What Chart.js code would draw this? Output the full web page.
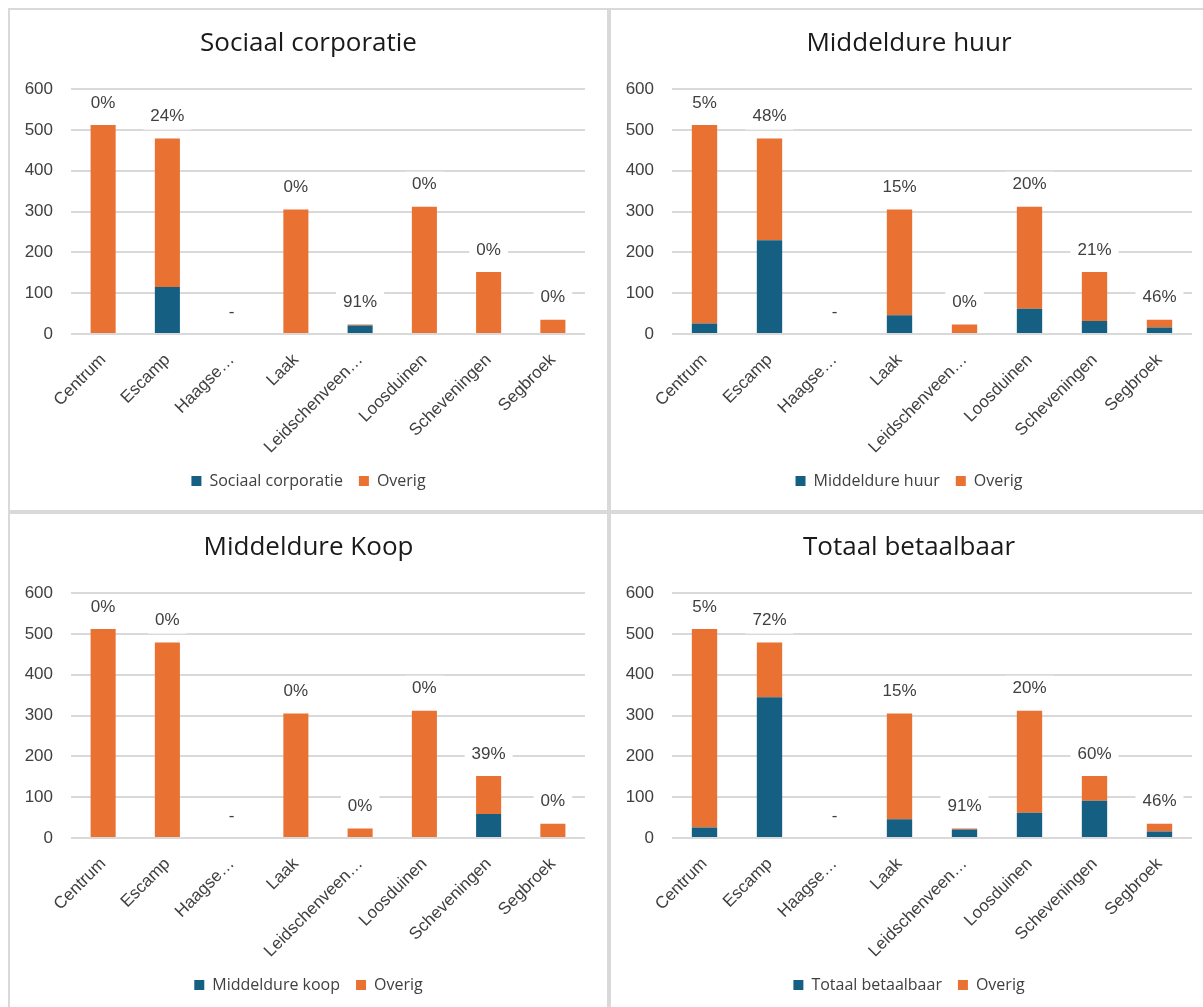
<!DOCTYPE html>
<html>
<head>
<meta charset="utf-8">
<script src="https://cdn.jsdelivr.net/npm/chart.js@4.4.1/dist/chart.umd.min.js"></script>
<style>
  body { margin: 0; background: #fff; width: 1203px; height: 1007px; overflow: hidden; position: relative; }
  .panel { position: absolute; box-sizing: border-box; border: 2px solid #d9d9d9; background: #fff; }
  .panel canvas { display: block; }
</style>
</head>
<body>
<div class="panel" style="left:8px; top:8px; width:601px; height:504px;"><canvas id="sociaalChart" width="597" height="500"></canvas></div>
<div class="panel" style="left:609px; top:8px; width:600px; height:504px;"><canvas id="huurChart" width="596" height="500"></canvas></div>
<div class="panel" style="left:8px; top:512px; width:601px; height:504px;"><canvas id="koopChart" width="597" height="500"></canvas></div>
<div class="panel" style="left:609px; top:512px; width:600px; height:504px;"><canvas id="totaalChart" width="596" height="500"></canvas></div>
<script>
// districts (as shown on the axis) and homes per district
const districts = ["Centrum", "Escamp", "Haagse…", "Laak", "Leidschenveen…", "Loosduinen", "Scheveningen", "Segbroek"];
const totalHomes = [512, 479, 0, 305, 23, 312, 152, 35];

// affordable part per district, one array per chart
const sociaalCorporatie = [0, 115, 0, 0, 21, 0, 0, 0];
const middeldureHuur = [26, 230, 0, 46, 0, 62, 32, 16];
const middeldureKoop = [0, 0, 0, 0, 0, 0, 59, 0];
const totaalBetaalbaar = [26, 345, 0, 46, 21, 62, 91, 16];

const yMin = 0;
const yMax = 600;
const yStep = 100;

const blue = "#156082";
const orange = "#E97132";
const textColor = "#404040";
const axisFont = "'Liberation Sans', Arial, sans-serif";
const titleFont = "'Open Sans', Lato, sans-serif";

// percentage label above each stacked bar, on a white patch
const shareLabels = {
  id: "shareLabels",
  afterDatasetsDraw(chart) {
    const ctx = chart.ctx;
    const part = chart.data.datasets[0].data;
    const rest = chart.data.datasets[1].data;
    const xs = chart.scales.x;
    const ys = chart.scales.y;
    ctx.save();
    ctx.font = "17px " + axisFont;
    ctx.textAlign = "center";
    ctx.textBaseline = "middle";
    part.forEach(function(v, i) {
      const total = v + rest[i];
      const text = total ? Math.round(v / total * 100) + "%" : "-";
      const px = xs.getPixelForValue(i);
      const py = ys.getPixelForValue(total) - 22;
      const w = ctx.measureText(text).width + 14;
      ctx.fillStyle = "#fff";
      ctx.fillRect(px - w / 2, py - 13, w, 26);
      ctx.fillStyle = textColor;
      ctx.fillText(text, px, py);
    });
    ctx.restore();
  }
};

function makeChart(canvasId, title, partName, partData, rightGap) {
  const rest = totalHomes.map(function(t, i) { return t - partData[i]; });
  return new Chart(document.getElementById(canvasId), {
    type: "bar",
    data: {
      labels: districts,
      datasets: [
        { label: partName, data: partData, backgroundColor: blue },
        { label: "Overig", data: rest, backgroundColor: orange }
      ]
    },
    options: {
      responsive: false,
      animation: false,
      layout: { padding: { left: 0, right: 0, top: 0, bottom: 11 } },
      datasets: { bar: { categoryPercentage: 1, barPercentage: 0.39 } },
      scales: {
        x: {
          stacked: true,
          grid: { display: false },
          border: { display: false },
          ticks: {
            color: textColor,
            font: { family: axisFont, size: 17 },
            autoSkip: false,
            maxRotation: 45,
            minRotation: 45,
            padding: 8
          },
          afterFit: function(s) { s.height = 123; }
        },
        y: {
          stacked: true,
          min: yMin,
          max: yMax,
          ticks: { stepSize: yStep, color: textColor, font: { family: axisFont, size: 17 }, padding: 18 },
          grid: { color: "#d9d9d9", lineWidth: 2, drawTicks: false },
          border: { display: false },
          afterFit: function(s) { s.width = 61; }
        },
        // empty axis on the right, only keeps the plot clear of the panel edge
        gap: {
          position: "right",
          grid: { display: false },
          border: { display: false },
          ticks: { display: false },
          afterFit: function(s) { s.width = rightGap; }
        }
      },
      plugins: {
        title: {
          display: true,
          text: title,
          color: "#1a1a1a",
          font: { family: titleFont, size: 26, weight: "normal" },
          padding: { top: 18, bottom: 30 }
        },
        legend: {
          position: "bottom",
          labels: {
            boxWidth: 10,
            boxHeight: 10,
            padding: 16,
            color: textColor,
            font: { family: titleFont, size: 16 }
          }
        },
        tooltip: { enabled: false }
      }
    },
    plugins: [shareLabels]
  });
}

makeChart("sociaalChart", "Sociaal corporatie", "Sociaal corporatie", sociaalCorporatie, 22);
makeChart("huurChart", "Middeldure huur", "Middeldure huur", middeldureHuur, 15);
makeChart("koopChart", "Middeldure Koop", "Middeldure koop", middeldureKoop, 22);
makeChart("totaalChart", "Totaal betaalbaar", "Totaal betaalbaar", totaalBetaalbaar, 15);
</script>
</body>
</html>
